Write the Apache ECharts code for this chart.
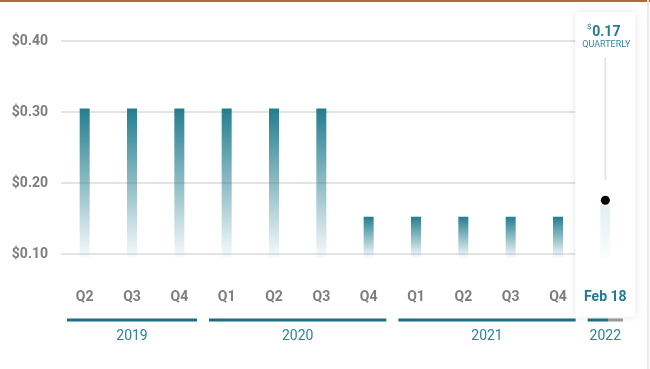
<!DOCTYPE html>
<html>
<head>
<meta charset="utf-8">
<script src="https://cdn.jsdelivr.net/npm/echarts@6/dist/echarts.min.js"></script>
<style>
html,body{margin:0;padding:0;background:#fff;}
#chart{width:650px;height:369px;}
</style>
</head>
<body>
<div id="chart"></div>
<script>
// ---- data ----
const periods = ['2019-Q2','2019-Q3','2019-Q4','2020-Q1','2020-Q2','2020-Q3','2020-Q4','2021-Q1','2021-Q2','2021-Q3','2021-Q4','2022-02-18'];
const tickLabels = ['Q2','Q3','Q4','Q1','Q2','Q3','Q4','Q1','Q2','Q3','Q4','Feb 18'];
const dividends = [0.305,0.305,0.305,0.305,0.305,0.305,0.1525,0.1525,0.1525,0.1525,0.1525];
const upcoming = 0.17;
const upcomingText = '0.17';
const upcomingFreq = 'QUARTERLY';
const years = ['2019','2020','2021','2022'];
const yearFirst = [0,3,7,11];
const yearLast = [2,6,10,11];
const yearProgress = [1,1,1,0.58];
const yMin = 0, yMax = 0.4, yStep = 0.1;
const barFloor = 0.095;

// ---- styles ----
const TEXT_TEAL = '#1f7a95';
const GREY = '#7d7d7d';
const FONT = 'Roboto, "Noto Sans", sans-serif';

function tealGrad(v, a0, a1) {
  const t = Math.max(0, (v - barFloor) / v);
  return new echarts.graphic.LinearGradient(0, 0, 0, 1, [
    {offset: 0, color: 'rgba(35,125,143,' + a0 + ')'},
    {offset: t, color: 'rgba(35,125,143,' + a1 + ')'},
    {offset: Math.min(1, t + 0.001), color: 'rgba(35,125,143,0)'},
    {offset: 1, color: 'rgba(35,125,143,0)'}
  ]);
}

const barData = dividends.map(v => ({value: v, itemStyle: {color: tealGrad(v, 1, 0.03)}}))
  .concat([{value: upcoming, itemStyle: {color: tealGrad(upcoming, 0.13, 0.02)}}]);

const last = periods.length - 1;

const chart = echarts.init(document.getElementById('chart'), null, {renderer: 'canvas'});
chart.setOption({
  animation: false,
  backgroundColor: '#fff',
  textStyle: {fontFamily: FONT},
  grid: {left: 61, right: 21, top: 41, bottom: 44, containLabel: false},
  graphic: [
    {type: 'rect', shape: {x: 0, y: 0, width: 650, height: 2}, style: {fill: '#b3692f'}, z: 100},
    {type: 'rect', shape: {x: 647, y: 0, width: 2, height: 369}, style: {fill: '#ebebeb'}, z: 100}
  ],
  xAxis: {
    type: 'category',
    data: periods,
    z: 5,
    axisLine: {show: false},
    axisTick: {show: false},
    splitLine: {show: false},
    axisLabel: {
      margin: -28,
      verticalAlign: 'middle',
      interval: 0,
      color: GREY,
      fontSize: 14,
      fontWeight: 'bold',
      fontFamily: FONT,
      formatter: (v, i) => i === last ? '{hl|' + tickLabels[i] + '}' : tickLabels[i],
      rich: {hl: {color: TEXT_TEAL, fontSize: 14, fontWeight: 'bold', fontFamily: FONT}}
    }
  },
  yAxis: {
    type: 'value',
    min: yMin, max: yMax, interval: yStep,
    axisLine: {show: false},
    axisTick: {show: false},
    splitLine: {show: true, showMinLine: false, lineStyle: {color: '#e4e4e4', width: 2}},
    axisLabel: {
      margin: 13,
      color: GREY,
      fontSize: 14,
      fontWeight: 'bold',
      fontFamily: FONT,
      formatter: v => v === 0 ? '' : '$' + v.toFixed(2)
    }
  },
  series: [
    {
      type: 'custom',
      name: 'panel',
      z: 1,
      silent: true,
      data: [[last, upcoming]],
      encode: {x: 0, y: 1},
      renderItem: function (params, api) {
        const cs = params.coordSys;
        const c = api.coord([api.value(0), api.value(1)]);
        const cx = c[0];
        const top = cs.y - 29;
        const bottom = cs.y + cs.height - 8;
        return {
          type: 'group',
          children: [
            {type: 'rect', shape: {x: cx - 30, y: top, width: 60, height: bottom - top, r: 2},
             style: {fill: '#fff', shadowBlur: 8, shadowColor: 'rgba(0,0,0,0.10)', shadowOffsetX: 0, shadowOffsetY: 0}},
            {type: 'line', shape: {x1: cx, y1: top + 45, x2: cx, y2: c[1] - 24},
             style: {stroke: '#e6e6e6', lineWidth: 2}},
            {type: 'text', x: cx + 1, y: top + 20,
             style: {text: upcomingText, fill: TEXT_TEAL, font: 'bold 14px ' + FONT, align: 'center', verticalAlign: 'middle'}},
            {type: 'text', x: cx - 16, y: top + 15,
             style: {text: '$', fill: TEXT_TEAL, font: '8px ' + FONT, align: 'center', verticalAlign: 'middle'}},
            {type: 'text', x: cx + 1, y: top + 33,
             style: {text: upcomingFreq, fill: '#2d86a0', font: '9px ' + FONT, align: 'center', verticalAlign: 'middle'}}
          ]
        };
      }
    },
    {
      type: 'custom',
      name: 'years',
      z: 1,
      silent: true,
      data: years.map((y, i) => [yearFirst[i], yearLast[i], yearProgress[i], i]),
      encode: {x: [0, 1]},
      renderItem: function (params, api) {
        const cs = params.coordSys;
        const bw = api.size([1, 0])[0];
        const s = api.coord([api.value(0), 0]);
        const e = api.coord([api.value(1), 0]);
        const x1 = s[0] - bw / 2 + 6;
        const x2 = e[0] + bw / 2 - 6;
        const base = cs.y + cs.height;
        const ly = base - 5;
        const xm = x1 + (x2 - x1) * api.value(2);
        const idx = api.value(3);
        const kids = [
          {type: 'line', shape: {x1: x1, y1: ly, x2: xm, y2: ly}, style: {stroke: '#1c6f85', lineWidth: 3}},
          {type: 'text', x: (x1 + x2) / 2, y: base + 11.5,
           style: {text: years[idx], fill: '#2a84a0', font: '14px ' + FONT, align: 'center', verticalAlign: 'middle'}}
        ];
        if (xm < x2) {
          kids.push({type: 'line', shape: {x1: xm, y1: ly, x2: x2, y2: ly}, style: {stroke: '#999999', lineWidth: 3}});
        }
        return {type: 'group', children: kids};
      }
    },
    {
      type: 'bar',
      name: 'dividend',
      z: 2,
      barWidth: 10,
      data: barData
    },
    {
      type: 'scatter',
      name: 'next',
      z: 3,
      symbolSize: 9,
      symbolOffset: [0, -4],
      itemStyle: {color: '#000', opacity: 1},
      data: [[last, upcoming]]
    }
  ]
});
</script>
</body>
</html>
